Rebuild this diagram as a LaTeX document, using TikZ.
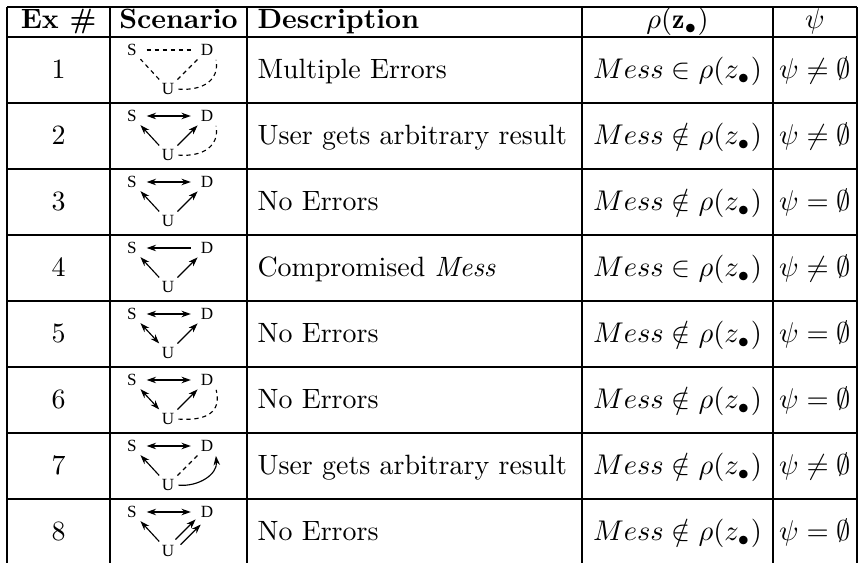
\documentclass[tikz,border=0pt]{standalone}
\usepackage{fontspec}
\newfontfamily\figfont{Liberation Serif}
\usetikzlibrary{arrows.meta}
\begin{document}
\begin{tikzpicture}[x=0.351pt,y=-0.351pt,
  rule/.style={line width=0.75pt},
  lab/.style={font=\figfont\fontsize{6}{7}\selectfont, inner sep=0.7pt},
  txt/.style={inner sep=0pt, anchor=base, font=\fontsize{9.8}{12}\selectfont},
  lft/.style={txt, anchor=base west},
  thin/.style={line width=0.4pt},
  arr/.style={thin, -{Stealth[length=3.3pt,width=2.3pt]}, shorten >=0.6pt, shorten <=0.6pt},
  bi/.style={thin, {Stealth[length=3.3pt,width=2.3pt]}-{Stealth[length=3.3pt,width=2.3pt]}, shorten >=0.6pt, shorten <=0.6pt},
  dsh/.style={thin, dash pattern=on 1.5pt off 1.3pt, shorten >=0.6pt, shorten <=0.6pt},
  hz/.style={shorten >=2.6pt, shorten <=2.6pt}]
\useasboundingbox (0,0) rectangle (861,563);

% table rules
\draw[rule] (7,7) -- (857,7);
\foreach \y in {37,103,169,235,301,367,433,499} \draw[rule] (7,\y) -- (857,\y);
\foreach \x in {7,110,247,582,773,857} \draw[rule] (\x,7) -- (\x,563);

% header
\node[txt] (h1) at (58.5,29) {\textbf{Ex \#}};
\node[txt] (h2) at (178.5,29) {\textbf{Scenario}};
\node[lft] (h3) at (257,29) {\textbf{Description}};
\node[txt] (h4) at (677.5,29) {$\rho(\mathbf{z}_\bullet)$};
\node[txt] (h5) at (815,29) {$\psi$};

% rows text
\foreach \i/\d/\r/\p in {
  1/{Multiple Errors}/{\in}/{\neq},
  2/{User gets arbitrary result}/{\notin}/{\neq},
  3/{No Errors}/{\notin}/{=},
  4/{Compromised \textit{Mess}}/{\in}/{\neq},
  5/{No Errors}/{\notin}/{=},
  6/{No Errors}/{\notin}/{=},
  7/{User gets arbitrary result}/{\notin}/{\neq},
  8/{No Errors}/{\notin}/{=}} {
  \pgfmathsetmacro\c{37+66*(\i-1)+42}
  \node[txt] (n\i) at (58.5,\c) {\i};
  \node[lft] (desc\i) at (257,\c) {\d};
  \node[txt] (rho\i) at (677.5,\c) {$Mess \r \rho(z_\bullet)$};
  \node[txt] (psi\i) at (815,\c) {$\psi \p \emptyset$};
  \pgfmathsetmacro\t{37+66*(\i-1)}
  \node[lab] (S\i) at (132,\t+13) {S};
  \node[lab] (D\i) at (207,\t+13) {D};
  \node[lab] (U\i) at (168,\t+52) {U};
}

% row 1
\draw[dsh,hz] (S1) -- (D1);
\draw[dsh] (U1) -- (S1);
\draw[dsh] (U1) -- (D1);
\draw[dsh] (U1.east) .. controls +(26,2) and +(4,22) .. (D1.south east);
% row 2
\draw[bi,hz] (S2) -- (D2);
\draw[arr] (U2) -- (S2);
\draw[arr] (U2) -- (D2);
\draw[dsh] (U2.east) .. controls +(26,2) and +(4,22) .. (D2.south east);
% row 3
\draw[bi,hz] (S3) -- (D3);
\draw[arr] (U3) -- (S3);
\draw[arr] (U3) -- (D3);
% row 4
\draw[arr,hz] (D4) -- (S4);
\draw[arr] (U4) -- (S4);
\draw[arr] (U4) -- (D4);
% row 5
\draw[bi,hz] (S5) -- (D5);
\draw[bi] (U5) -- (S5);
\draw[arr] (U5) -- (D5);
% row 6
\draw[bi,hz] (S6) -- (D6);
\draw[bi] (U6) -- (S6);
\draw[arr] (U6) -- (D6);
\draw[dsh] (U6.east) .. controls +(30,2) and +(6,24) .. (D6.south east);
% row 7
\draw[bi,hz] (S7) -- (D7);
\draw[arr] (U7) -- (S7);
\draw[dsh] (U7) -- (D7);
\draw[arr] (U7.east) .. controls +(22,2) and +(2,20) .. (D7.south east);
% row 8
\draw[bi,hz] (S8) -- (D8);
\draw[arr] (U8) -- (S8);
\draw[arr, transform canvas={xshift=-0.7pt,yshift=0.7pt}] (U8) -- (D8);
\draw[arr, transform canvas={xshift=1.1pt,yshift=-1.1pt}] (U8) -- (D8);
\end{tikzpicture}
\end{document}
